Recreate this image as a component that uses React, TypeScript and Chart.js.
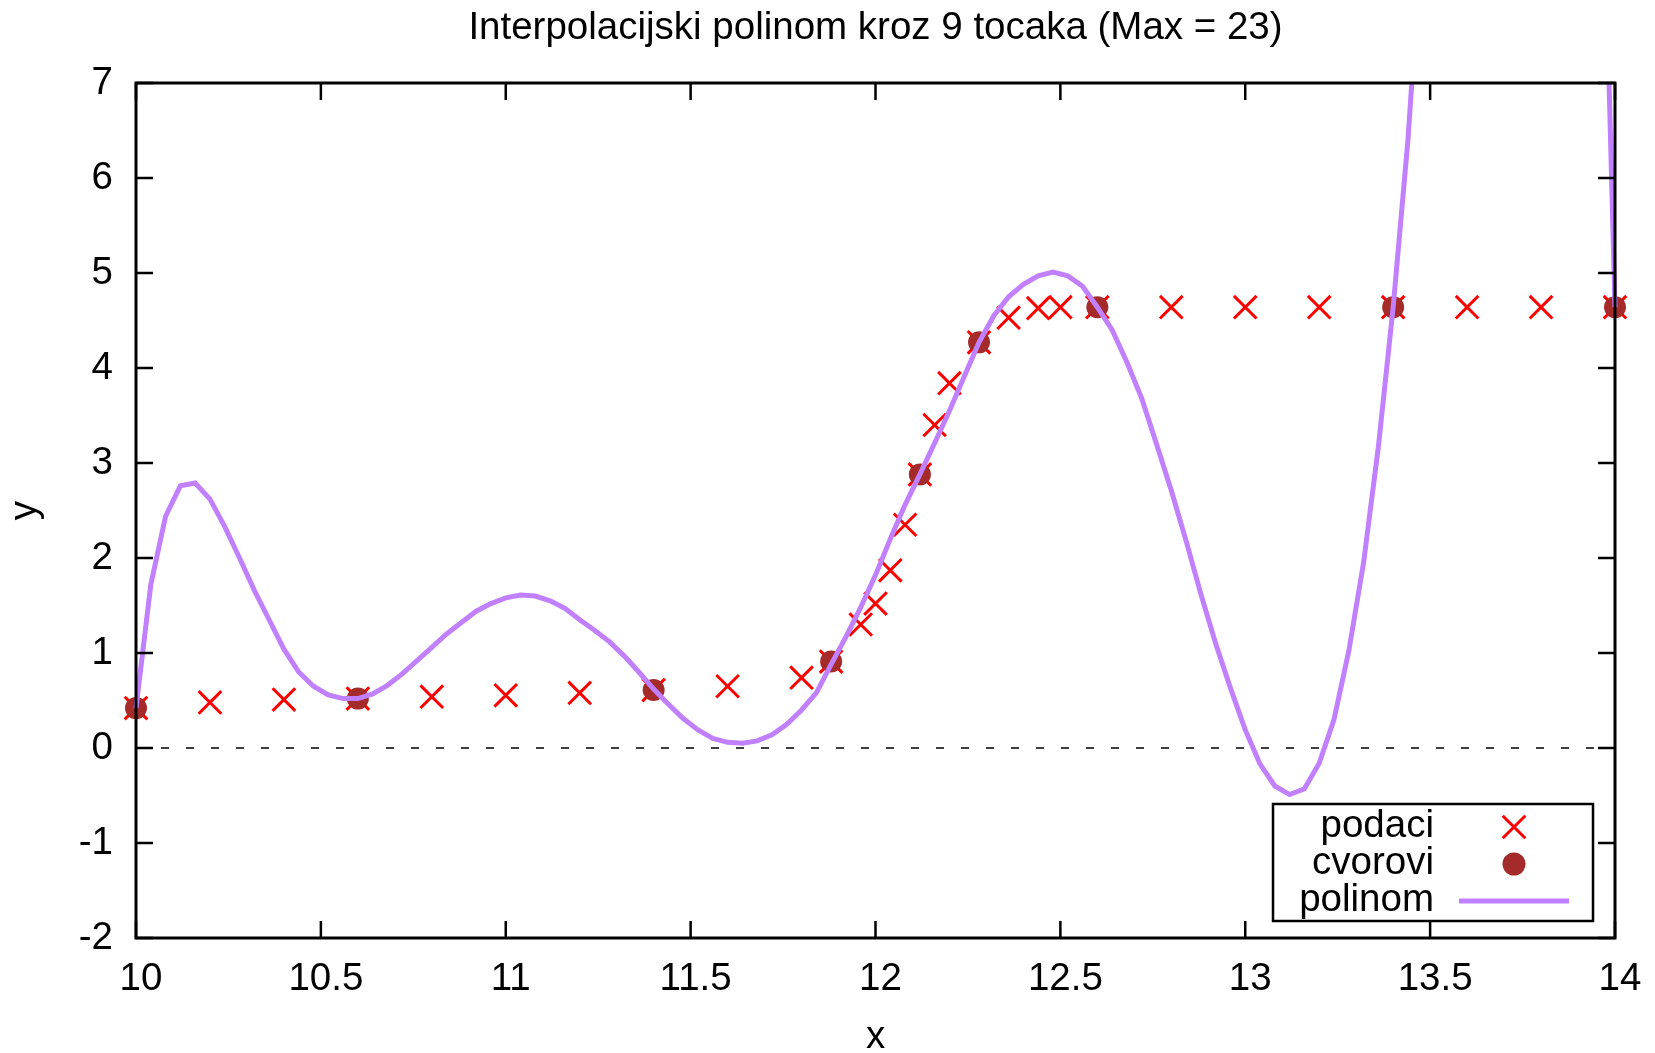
import React, { useEffect, useRef } from 'react';
import { Chart, registerables } from 'chart.js';

Chart.register(...registerables);

const TITLE = 'Interpolacijski polinom kroz 9 tocaka (Max = 23)';
const X_TITLE = 'x';
const Y_TITLE = 'y';

const X_TICKS = [10, 10.5, 11, 11.5, 12, 12.5, 13, 13.5, 14];
const X_TICK_LABELS = ['10', '10.5', '11', '11.5', '12', '12.5', '13', '13.5', '14'];
const Y_TICKS = [-2, -1, 0, 1, 2, 3, 4, 5, 6, 7];
const Y_TICK_LABELS = ['-2', '-1', '0', '1', '2', '3', '4', '5', '6', '7'];

const LEGEND_LABELS = ['podaci', 'cvorovi', 'polinom'];

// data points (crosses)
const podaciX = [
  10.0, 10.2, 10.4, 10.6, 10.8, 11.0, 11.2, 11.4, 11.6, 11.8,
  11.88, 11.96, 12.0, 12.04, 12.08, 12.12, 12.16, 12.2, 12.28, 12.36,
  12.44, 12.5, 12.6, 12.8, 13.0, 13.2, 13.4, 13.6, 13.8, 14.0,
];
const podaciY = [
  0.42, 0.48, 0.51, 0.52, 0.54, 0.555, 0.58, 0.61, 0.65, 0.74,
  0.91, 1.3, 1.52, 1.87, 2.35, 2.88, 3.4, 3.84, 4.27, 4.53,
  4.63, 4.64, 4.64, 4.64, 4.64, 4.64, 4.64, 4.64, 4.64, 4.64,
];

// interpolation nodes (dots)
const cvoroviX = [10.0, 10.6, 11.4, 11.88, 12.12, 12.28, 12.6, 13.4, 14.0];
const cvoroviY = [0.42, 0.52, 0.61, 0.91, 2.88, 4.27, 4.64, 4.64, 4.64];

// polynomial curve, values
const polinomX = [
  10.0, 10.04, 10.08, 10.12, 10.16, 10.2, 10.24, 10.28, 10.32, 10.36,
  10.4, 10.44, 10.48, 10.52, 10.56, 10.6, 10.64, 10.68, 10.72, 10.76,
  10.8, 10.84, 10.88, 10.92, 10.96, 11.0, 11.04, 11.08, 11.12, 11.16,
  11.2, 11.24, 11.28, 11.32, 11.36, 11.4, 11.44, 11.48, 11.52, 11.56,
  11.6, 11.64, 11.68, 11.72, 11.76, 11.8, 11.84, 11.88, 11.92, 11.96,
  12.0, 12.04, 12.08, 12.12, 12.16, 12.2, 12.24, 12.28, 12.32, 12.36,
  12.4, 12.44, 12.48, 12.52, 12.56, 12.6, 12.64, 12.68, 12.72, 12.76,
  12.8, 12.84, 12.88, 12.92, 12.96, 13.0, 13.04, 13.08, 13.12, 13.16,
  13.2, 13.24, 13.28, 13.32, 13.36, 13.4, 13.44, 13.48, 13.96, 14.0,
];
const polinomY = [
  0.42, 1.72, 2.44, 2.76, 2.79, 2.62, 2.33, 2.0, 1.66, 1.35,
  1.04, 0.8, 0.65, 0.56, 0.52, 0.52, 0.57, 0.66, 0.78, 0.92,
  1.06, 1.2, 1.32, 1.44, 1.52, 1.58, 1.61, 1.6, 1.55, 1.47,
  1.35, 1.24, 1.12, 0.97, 0.8, 0.62, 0.46, 0.31, 0.19, 0.1,
  0.06, 0.05, 0.075, 0.14, 0.25, 0.4, 0.58, 0.88, 1.17, 1.48,
  1.82, 2.2, 2.56, 2.88, 3.21, 3.55, 3.91, 4.27, 4.55, 4.75,
  4.88, 4.97, 5.01, 4.97, 4.86, 4.64, 4.4, 4.06, 3.68, 3.2,
  2.71, 2.18, 1.62, 1.1, 0.63, 0.19, -0.17, -0.4, -0.49, -0.43,
  -0.16, 0.3, 1.02, 1.95, 3.17, 4.64, 6.4, 8.7, 10.5, 4.64,
];

const FONT_FAMILY = "'Liberation Sans', Arial, Helvetica, sans-serif";
const FONT_SIZE = 38.5;

const CROSS_COLOR = '#ff0000';
const DOT_COLOR = '#a52a2a';
const LINE_COLOR = '#c080ff';

const framePlugin = {
  id: 'gnuFrame',
  beforeDatasetsDraw(chart: any) {
    const { ctx, chartArea } = chart;
    const y0 = chart.scales.y.getPixelForValue(0);
    ctx.save();
    ctx.strokeStyle = '#000';
    ctx.lineWidth = 1.5;
    ctx.setLineDash([8, 17]);
    ctx.beginPath();
    ctx.moveTo(chartArea.left, y0);
    ctx.lineTo(chartArea.right, y0);
    ctx.stroke();
    ctx.restore();
  },
  afterDraw(chart: any) {
    const { ctx, chartArea } = chart;
    const { left, right, top, bottom } = chartArea;
    const xs = chart.scales.x;
    const ys = chart.scales.y;
    const tick = 17;
    ctx.save();
    ctx.strokeStyle = '#000';
    ctx.lineWidth = 2.5;
    ctx.beginPath();
    X_TICKS.forEach((v) => {
      const px = xs.getPixelForValue(v);
      ctx.moveTo(px, bottom);
      ctx.lineTo(px, bottom - tick);
      ctx.moveTo(px, top);
      ctx.lineTo(px, top + tick);
    });
    Y_TICKS.forEach((v) => {
      const py = ys.getPixelForValue(v);
      ctx.moveTo(left, py);
      ctx.lineTo(left + tick, py);
      ctx.moveTo(right, py);
      ctx.lineTo(right - tick, py);
    });
    ctx.stroke();
    ctx.lineWidth = 3;
    ctx.strokeRect(left, top, right - left, bottom - top);
    ctx.restore();
  },
};

const keyPlugin = {
  id: 'gnuKey',
  afterDraw(chart: any) {
    const { ctx, chartArea } = chart;
    const boxRight = chartArea.right - 22;
    const boxBottom = chartArea.bottom - 17;
    const boxW = 320;
    const boxH = 117;
    const boxLeft = boxRight - boxW;
    const boxTop = boxBottom - boxH;
    const textRight = boxLeft + 161;
    const symX = boxLeft + 241;
    ctx.save();
    ctx.strokeStyle = '#000';
    ctx.lineWidth = 2.5;
    ctx.strokeRect(boxLeft, boxTop, boxW, boxH);
    ctx.font = `${FONT_SIZE}px ${FONT_FAMILY}`;
    ctx.fillStyle = '#000';
    ctx.textAlign = 'right';
    ctx.textBaseline = 'alphabetic';
    LEGEND_LABELS.forEach((label, i) => {
      const cy = boxTop + 23 + i * 37;
      ctx.fillStyle = '#000';
      ctx.fillText(label, textRight, cy + 10);
      if (i === 0) {
        const h = 11.3;
        ctx.strokeStyle = CROSS_COLOR;
        ctx.lineWidth = 3;
        ctx.beginPath();
        ctx.moveTo(symX - h, cy - h);
        ctx.lineTo(symX + h, cy + h);
        ctx.moveTo(symX + h, cy - h);
        ctx.lineTo(symX - h, cy + h);
        ctx.stroke();
      } else if (i === 1) {
        ctx.fillStyle = DOT_COLOR;
        ctx.beginPath();
        ctx.arc(symX, cy, 11.5, 0, Math.PI * 2);
        ctx.fill();
      } else {
        ctx.strokeStyle = LINE_COLOR;
        ctx.lineWidth = 5;
        ctx.beginPath();
        ctx.moveTo(symX - 55, cy);
        ctx.lineTo(symX + 55, cy);
        ctx.stroke();
      }
    });
    ctx.restore();
  },
};

export default function App() {
  const ref = useRef<HTMLCanvasElement>(null);

  useEffect(() => {
    const canvas = ref.current;
    if (!canvas) return;
    Chart.defaults.font.family = FONT_FAMILY;
    Chart.defaults.color = '#000';

    const tickFont = { family: FONT_FAMILY, size: FONT_SIZE, weight: 'normal' as const, lineHeight: 1.2 };

    const chart = new Chart(canvas, {
      type: 'scatter',
      data: {
        datasets: [
          {
            label: LEGEND_LABELS[2],
            data: polinomX.map((x, i) => ({ x, y: polinomY[i] })),
            showLine: true,
            borderColor: LINE_COLOR,
            backgroundColor: LINE_COLOR,
            borderWidth: 5,
            pointRadius: 0,
            pointHoverRadius: 0,
            tension: 0,
            order: 0,
            clip: { left: 5, right: 5, top: 0, bottom: 0 },
          } as any,
          {
            label: LEGEND_LABELS[1],
            data: cvoroviX.map((x, i) => ({ x, y: cvoroviY[i] })),
            pointStyle: 'circle',
            pointRadius: 11,
            backgroundColor: DOT_COLOR,
            borderColor: DOT_COLOR,
            borderWidth: 0,
            order: 1,
            clip: false,
          } as any,
          {
            label: LEGEND_LABELS[0],
            data: podaciX.map((x, i) => ({ x, y: podaciY[i] })),
            pointStyle: 'crossRot',
            pointRadius: 16,
            borderColor: CROSS_COLOR,
            backgroundColor: CROSS_COLOR,
            borderWidth: 3,
            order: 2,
            clip: false,
          } as any,
        ],
      },
      options: {
        responsive: false,
        animation: false,
        devicePixelRatio: 1,
        events: [],
        layout: { padding: { left: 0, right: 40, top: 0, bottom: 0 } },
        plugins: {
          legend: { display: false },
          tooltip: { enabled: false },
          title: {
            display: true,
            text: TITLE,
            fullSize: false,
            color: '#000',
            font: { family: FONT_FAMILY, size: FONT_SIZE, weight: 'normal', lineHeight: 1.2 },
            padding: { top: 5.2, bottom: 31.6 },
          },
        },
        scales: {
          x: {
            type: 'linear',
            position: 'bottom',
            min: 10,
            max: 14,
            grid: { display: false, drawTicks: false },
            border: { display: false },
            afterBuildTicks: (scale: any) => {
              scale.ticks = X_TICKS.map((v) => ({ value: v }));
            },
            afterFit: (scale: any) => {
              scale.height = 115;
            },
            ticks: {
              autoSkip: false,
              maxRotation: 0,
              minRotation: 0,
              padding: 18,
              labelOffset: 5,
              color: '#000',
              font: tickFont,
              callback: (value: any) => {
                const i = X_TICKS.indexOf(Number(value));
                return i >= 0 ? X_TICK_LABELS[i] : '';
              },
            },
            title: {
              display: true,
              text: X_TITLE,
              color: '#000',
              font: { family: FONT_FAMILY, size: FONT_SIZE, weight: 'normal', lineHeight: 0.8 },
              padding: { top: 0, bottom: 0 },
            },
          },
          y: {
            type: 'linear',
            position: 'left',
            min: -2,
            max: 7,
            grid: { display: false, drawTicks: false },
            border: { display: false },
            afterBuildTicks: (scale: any) => {
              scale.ticks = Y_TICKS.map((v) => ({ value: v }));
            },
            afterFit: (scale: any) => {
              scale.width = 136;
            },
            ticks: {
              autoSkip: false,
              padding: 23,
              color: '#000',
              font: tickFont,
              callback: (value: any) => {
                const i = Y_TICKS.indexOf(Number(value));
                return i >= 0 ? Y_TICK_LABELS[i] : '';
              },
            },
            title: {
              display: true,
              text: Y_TITLE,
              color: '#000',
              font: { family: FONT_FAMILY, size: FONT_SIZE, weight: 'normal', lineHeight: 1 },
              padding: { top: 6, bottom: 0 },
            },
          },
        },
      },
      plugins: [framePlugin, keyPlugin],
    } as any);

    return () => {
      chart.destroy();
    };
  }, []);

  return (
    <div style={{ position: 'fixed', left: 0, top: 0, width: 1655, height: 1053, background: '#ffffff' }}>
      <canvas ref={ref} width={1655} height={1053} style={{ display: 'block' }} />
    </div>
  );
}
